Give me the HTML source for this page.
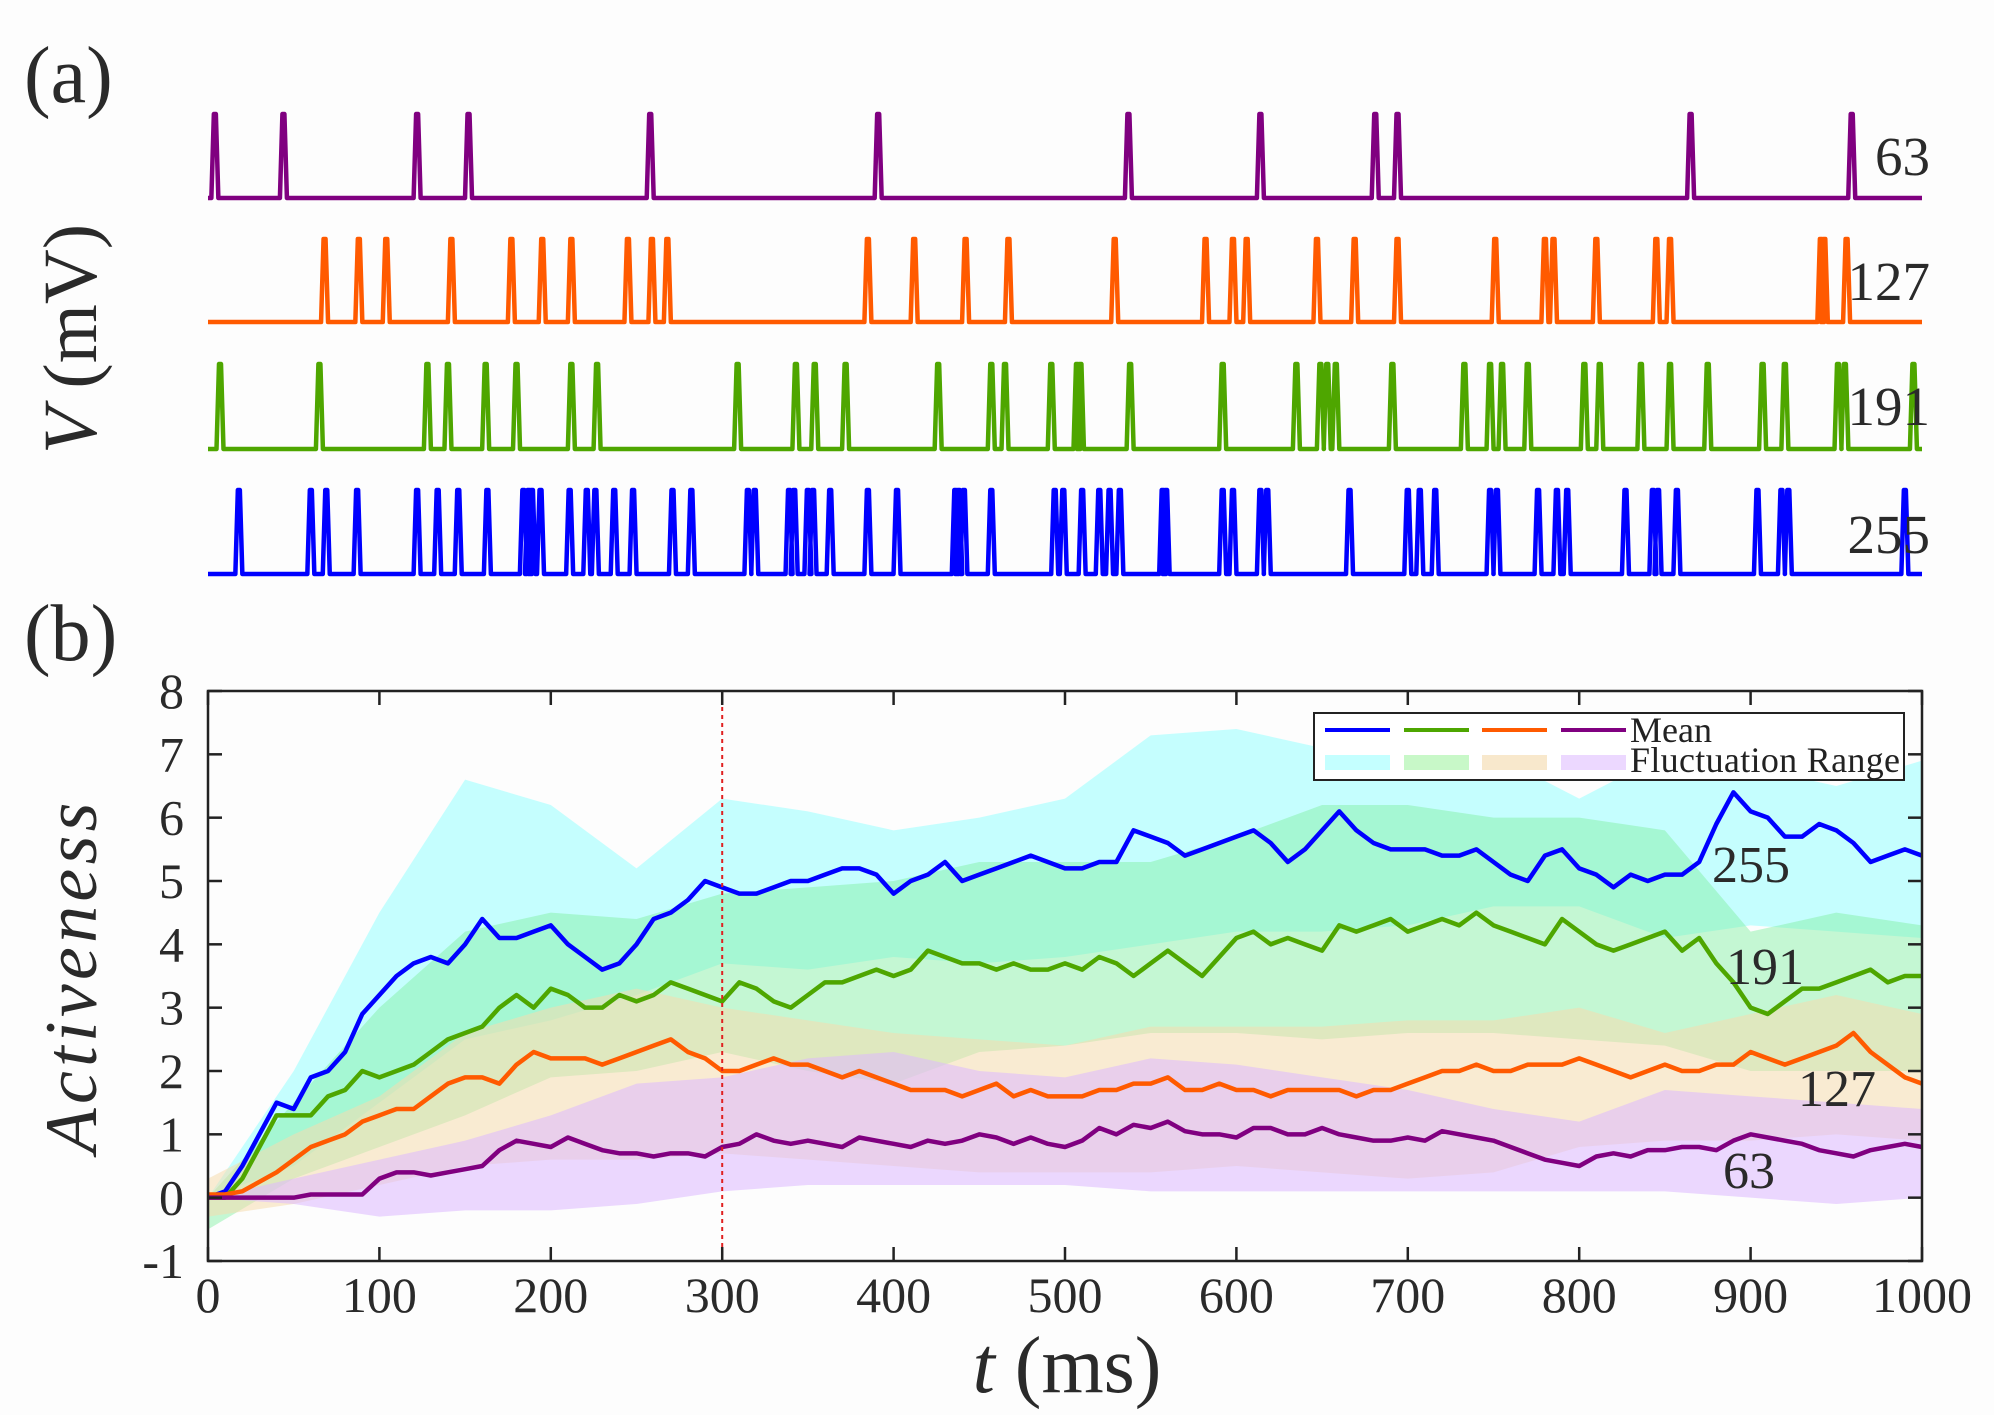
<!DOCTYPE html>
<html><head><meta charset="utf-8"><style>
body{margin:0;background:#fff}
svg{display:block;font-family:"Liberation Serif",serif}
</style></head><body>
<svg id="fig" width="1994" height="1415" viewBox="0 0 1994 1415">
<rect width="1994" height="1415" fill="#fdfdfd"/>
<text x="24" y="102" font-size="80" fill="#2a2a2a">(a)</text>
<text x="24" y="660" font-size="80" fill="#2a2a2a">(b)</text>
<text transform="translate(96,339) rotate(-90)" text-anchor="middle" font-size="76" fill="#2a2a2a"><tspan font-style="italic">V</tspan> (mV)</text>
<text transform="translate(96,978) rotate(-90)" text-anchor="middle" font-size="74" font-style="italic" fill="#2a2a2a" textLength="351">Activeness</text>
<text x="1067" y="1392" text-anchor="middle" font-size="80" fill="#2a2a2a"><tspan font-style="italic">t</tspan> (ms)</text>
<g id="rasters"></g>
<g id="plot"></g>
</svg>
<script>
// ---- Panel (a) spike times (ms)
const spikes63 = [4,44,122,152,258,391,537,614,681,694,865,959];
const spikes127 = [68,88,104,142,177,195,212,245,259,268,385,412,442,467,529,582,598,606,647,669,694,751,780,785,810,845,853,941,943,956];
const spikes191 = [7,65,128,140,162,180,212,227,309,343,354,372,426,457,465,492,507,509,538,592,635,649,653,658,691,733,748,755,770,803,812,836,853,875,907,920,951,955,995];
const spikes255 = [18,60,69,87,122,134,146,163,184,187,189,194,211,221,226,237,248,271,282,315,319,339,342,350,353,363,385,402,436,438,441,457,494,499,510,520,526,532,557,559,592,598,614,618,666,700,707,716,748,752,776,787,793,827,843,846,857,904,918,922,990];

// ---- Panel (b) data (every 10 ms)
const times = Array.from({length:101},(_, i)=>i*10);
const mean255 = [0,0.1,0.5,1.0,1.5,1.4,1.9,2.0,2.3,2.9,3.2,3.5,3.7,3.8,3.7,4.0,4.4,4.1,4.1,4.2,4.3,4.0,3.8,3.6,3.7,4.0,4.4,4.5,4.7,5.0,4.9,4.8,4.8,4.9,5.0,5.0,5.1,5.2,5.2,5.1,4.8,5.0,5.1,5.3,5.0,5.1,5.2,5.3,5.4,5.3,5.2,5.2,5.3,5.3,5.8,5.7,5.6,5.4,5.5,5.6,5.7,5.8,5.6,5.3,5.5,5.8,6.1,5.8,5.6,5.5,5.5,5.5,5.4,5.4,5.5,5.3,5.1,5.0,5.4,5.5,5.2,5.1,4.9,5.1,5.0,5.1,5.1,5.3,5.9,6.4,6.1,6.0,5.7,5.7,5.9,5.8,5.6,5.3,5.4,5.5,5.4];
const mean191 = [0,0,0.3,0.8,1.3,1.3,1.3,1.6,1.7,2.0,1.9,2.0,2.1,2.3,2.5,2.6,2.7,3.0,3.2,3.0,3.3,3.2,3.0,3.0,3.2,3.1,3.2,3.4,3.3,3.2,3.1,3.4,3.3,3.1,3.0,3.2,3.4,3.4,3.5,3.6,3.5,3.6,3.9,3.8,3.7,3.7,3.6,3.7,3.6,3.6,3.7,3.6,3.8,3.7,3.5,3.7,3.9,3.7,3.5,3.8,4.1,4.2,4.0,4.1,4.0,3.9,4.3,4.2,4.3,4.4,4.2,4.3,4.4,4.3,4.5,4.3,4.2,4.1,4.0,4.4,4.2,4.0,3.9,4.0,4.1,4.2,3.9,4.1,3.7,3.4,3.0,2.9,3.1,3.3,3.3,3.4,3.5,3.6,3.4,3.5,3.5];
const mean127 = [0.05,0.05,0.1,0.25,0.4,0.6,0.8,0.9,1.0,1.2,1.3,1.4,1.4,1.6,1.8,1.9,1.9,1.8,2.1,2.3,2.2,2.2,2.2,2.1,2.2,2.3,2.4,2.5,2.3,2.2,2.0,2.0,2.1,2.2,2.1,2.1,2.0,1.9,2.0,1.9,1.8,1.7,1.7,1.7,1.6,1.7,1.8,1.6,1.7,1.6,1.6,1.6,1.7,1.7,1.8,1.8,1.9,1.7,1.7,1.8,1.7,1.7,1.6,1.7,1.7,1.7,1.7,1.6,1.7,1.7,1.8,1.9,2.0,2.0,2.1,2.0,2.0,2.1,2.1,2.1,2.2,2.1,2.0,1.9,2.0,2.1,2.0,2.0,2.1,2.1,2.3,2.2,2.1,2.2,2.3,2.4,2.6,2.3,2.1,1.9,1.8];
const mean63 = [0,0,0,0,0,0,0.05,0.05,0.05,0.05,0.3,0.4,0.4,0.35,0.4,0.45,0.5,0.75,0.9,0.85,0.8,0.95,0.85,0.75,0.7,0.7,0.65,0.7,0.7,0.65,0.8,0.85,1.0,0.9,0.85,0.9,0.85,0.8,0.95,0.9,0.85,0.8,0.9,0.85,0.9,1.0,0.95,0.85,0.95,0.85,0.8,0.9,1.1,1.0,1.15,1.1,1.2,1.05,1.0,1.0,0.95,1.1,1.1,1.0,1.0,1.1,1.0,0.95,0.9,0.9,0.95,0.9,1.05,1.0,0.95,0.9,0.8,0.7,0.6,0.55,0.5,0.65,0.7,0.65,0.75,0.75,0.8,0.8,0.75,0.9,1.0,0.95,0.9,0.85,0.75,0.7,0.65,0.75,0.8,0.85,0.8];

// fluctuation ranges (every 50 ms)
const rangeTimes = [0,50,100,150,200,250,300,350,400,450,500,550,600,650,700,750,800,850,900,950,1000];
const upper255 = [0,2,4.5,6.6,6.2,5.2,6.3,6.1,5.8,6.0,6.3,7.3,7.4,7.1,7.3,7.0,6.3,7.0,6.8,6.5,6.9];
const lower255 = [0,0.5,1.5,2.5,2.8,3.2,3.7,3.6,3.8,3.7,3.8,4.0,4.2,4.2,4.3,4.6,4.6,4.1,4.3,4.2,4.1];
const upper191 = [0,1.5,3.0,4.2,4.5,4.4,4.8,4.9,5.0,5.3,5.3,5.3,5.7,6.2,6.2,6.0,6.0,5.8,4.2,4.5,4.3];
const lower191 = [-0.5,0.3,0.8,1.3,1.9,2.0,2.3,2.0,1.8,2.3,2.4,2.6,2.6,2.5,2.6,2.6,2.5,2.4,2.0,2.0,2.0];
const upper127 = [0.3,1.0,1.6,2.6,3.0,3.3,3.0,2.8,2.6,2.5,2.4,2.7,2.7,2.7,2.8,2.8,3.0,2.6,2.9,3.2,2.9];
const lower127 = [-0.3,-0.1,0.2,0.5,0.6,0.6,0.7,0.6,0.5,0.4,0.4,0.4,0.5,0.4,0.3,0.4,0.8,0.9,0.9,1.0,0.9];
const upper63 = [0,0.3,0.6,0.9,1.3,1.8,1.9,2.2,2.3,2.0,1.9,2.2,2.1,1.9,1.7,1.4,1.2,1.7,1.6,1.5,1.4];
const lower63 = [0,-0.1,-0.3,-0.2,-0.2,-0.1,0.1,0.2,0.2,0.2,0.2,0.1,0.1,0.1,0.1,0.1,0.1,0.1,0,-0.1,0];

const xTicks = [0,100,200,300,400,500,600,700,800,900,1000];
const yTicks = [-1,0,1,2,3,4,5,6,7,8];

const NS = "http://www.w3.org/2000/svg";
const X0 = 208, X1 = 1922, YT = 691, YB = 1261;
const sx = t => X0 + (t/1000)*(X1-X0);
const sy = v => YB - (v+1)/9*(YB-YT);
function mk(tag, attrs, parent){ const e=document.createElementNS(NS,tag); for(const k in attrs) e.setAttribute(k,attrs[k]); parent.appendChild(e); return e; }

// ---- Rasters
const rg = document.getElementById('rasters');
const rows = [
  {sp:spikes63, base:198, top:114, col:"#800080", lab:"63", name:"raster-63", ly:156},
  {sp:spikes127, base:322, top:239, col:"#ff5a00", lab:"127", name:"raster-127", ly:281},
  {sp:spikes191, base:449, top:364, col:"#4ea600", lab:"191", name:"raster-191", ly:406},
  {sp:spikes255, base:574, top:490, col:"#0000ff", lab:"255", name:"raster-255", ly:534}
];
rows.forEach(r=>{
  let d = `M${X0},${r.base}`;
  r.sp.forEach(t=>{ const x=sx(t); d+=` L${x-3.5},${r.base} L${x-1},${r.top} L${x+1},${r.top} L${x+3.5},${r.base}`; });
  d += ` L${X1},${r.base}`;
  const p = mk('path',{d:d,fill:"none",stroke:r.col,"stroke-width":4.5,"stroke-linejoin":"round"},rg);
  
  
  const t = mk('text',{x:1930,y:r.ly+19,"text-anchor":"end","font-size":55,fill:"#2a2a2a"},rg);
  t.textContent = r.lab;
  
  
});

// ---- Panel b
const pg = document.getElementById('plot');
const bands = [
  {u:upper255,l:lower255,c:"#a8ffff",o:0.65,n:"range-255"},
  {u:upper191,l:lower191,c:"#7ef0a0",o:0.45,n:"range-191"},
  {u:upper127,l:lower127,c:"#f5dcae",o:0.55,n:"range-127"},
  {u:upper63,l:lower63,c:"#dcb8ff",o:0.55,n:"range-63"}
];
bands.forEach(b=>{
  let d = rangeTimes.map((t,i)=>(i?'L':'M')+sx(t)+','+sy(b.u[i])).join(' ');
  for(let i=rangeTimes.length-1;i>=0;i--) d+=` L${sx(rangeTimes[i])},${sy(b.l[i])}`;
  const p = mk('path',{d:d+' Z',fill:b.c,"fill-opacity":b.o},pg);
  
  
});
const lines = [
  {v:mean255,c:"#0000ff",n:"mean-255"},
  {v:mean191,c:"#4ea600",n:"mean-191"},
  {v:mean127,c:"#ff5a00",n:"mean-127"},
  {v:mean63,c:"#800080",n:"mean-63"}
];
lines.forEach(s=>{
  const d = times.map((t,i)=>(i?'L':'M')+sx(t)+','+sy(s.v[i])).join(' ');
  const p = mk('path',{d:d,fill:"none",stroke:s.c,"stroke-width":4.5,"stroke-linejoin":"round"},pg);
  
  
});
const rl = mk('line',{x1:sx(300),x2:sx(300),y1:YT,y2:YB,stroke:"#e02020","stroke-width":2,"stroke-dasharray":"4 4"},pg);


const fr = mk('rect',{x:X0,y:YT,width:X1-X0,height:YB-YT,fill:"none",stroke:"#222","stroke-width":2.5},pg);


xTicks.forEach(t=>{
  const x=sx(t);
  mk('line',{x1:x,x2:x,y1:YB,y2:YB-14,stroke:"#222","stroke-width":2.5},pg);
  mk('line',{x1:x,x2:x,y1:YT,y2:YT+14,stroke:"#222","stroke-width":2.5},pg);
  const tx = mk('text',{x:x,y:1312,"text-anchor":"middle","font-size":50,fill:"#2a2a2a"},pg);
  tx.textContent = t;
  
  
});
yTicks.forEach(v=>{
  const y=sy(v);
  mk('line',{x1:X0,x2:X0+14,y1:y,y2:y,stroke:"#222","stroke-width":2.5},pg);
  mk('line',{x1:X1,x2:X1-14,y1:y,y2:y,stroke:"#222","stroke-width":2.5},pg);
  const ty = mk('text',{x:184,y:y+17,"text-anchor":"end","font-size":50,fill:"#2a2a2a"},pg);
  ty.textContent = v;
  
  
});
[["255",1712,882],["191",1726,984],["127",1798,1106],["63",1723,1188]].forEach(a=>{
  const t = mk('text',{x:a[1],y:a[2],"font-size":52,fill:"#2a2a2a"},pg);
  t.textContent = a[0];
  
  
});
const lg = mk('g',{},pg);


mk('rect',{x:1314,y:713,width:590,height:67,fill:"#fff",stroke:"#222","stroke-width":2},lg);
const lcol=["#0000ff","#4ea600","#ff5a00","#800080"], fcol=["#c4ffff","#c8f8c8","#f8e8cc","#ecd8ff"];
[1325,1404,1482,1561].forEach((x,i)=>{
  const l = mk('line',{x1:x,x2:x+65,y1:730,y2:730,stroke:lcol[i],"stroke-width":4},lg);
  
  
  const r = mk('rect',{x:x,y:755,width:65,height:15,fill:fcol[i]},lg);
  
  
});
const m = mk('text',{x:1630,y:742,"font-size":36,fill:"#222"},lg); m.textContent="Mean";


const f = mk('text',{x:1630,y:772,"font-size":36,fill:"#222",textLength:270},lg); f.textContent="Fluctuation Range";


</script>
</body></html>
